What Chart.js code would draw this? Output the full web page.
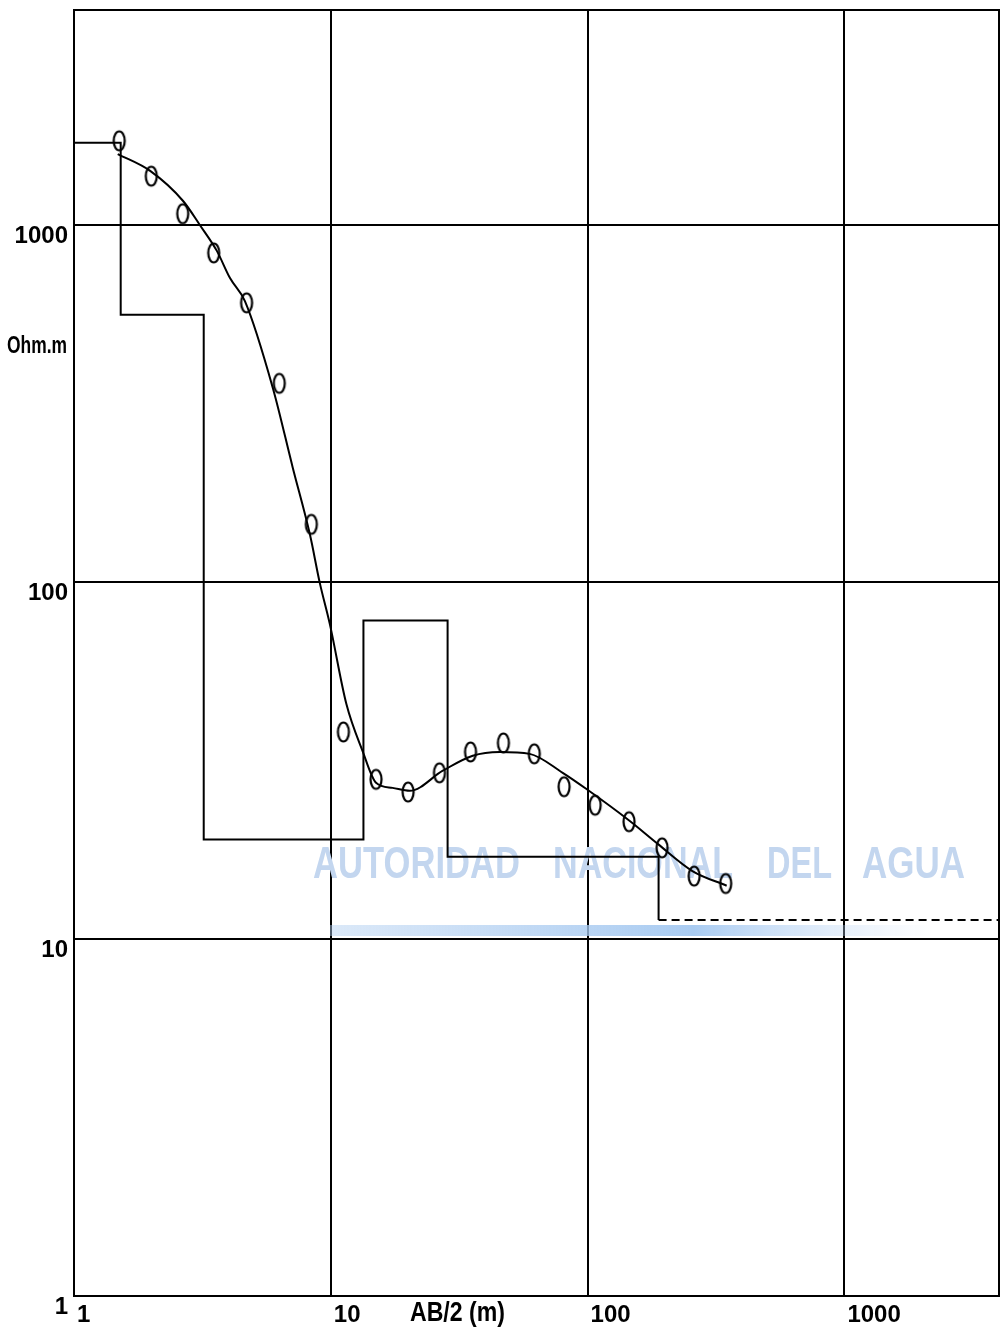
<!DOCTYPE html>
<html>
<head>
<meta charset="utf-8">
<script src="https://cdn.jsdelivr.net/npm/chart.js@4"></script>
<style>
  body { margin: 0; background: #fff; overflow: hidden; }
  canvas { display: block; }
</style>
</head>
<body>
<canvas id="myChart" width="1001" height="1328"></canvas>
<script>
// sounding curve - AB/2 (m) vs apparent resistivity (Ohm.m)
var abHalf = [1.5, 2, 2.65, 3.5, 4.7, 6.3, 8.4, 11.2, 15, 20, 26.5, 35, 47, 62, 81, 107, 145, 195, 260, 345];
var rhoApp = [1720, 1370, 1075, 835, 605, 360, 145, 38, 28, 25.8, 29.2, 33.4, 35.4, 33, 26.7, 23.7, 21.3, 18, 15, 14.3];

// computed (fitted) curve
var fitX = [1.48, 1.98, 2.66, 3.09, 3.6, 4.05, 4.63, 5.95, 7.11, 8.29, 9.06, 9.91, 11.5, 13.3, 15, 17.4, 20.3, 27.3, 35.7, 45.5, 59.5, 80, 99, 146, 187, 256, 348];
var fitY = [1580, 1417, 1167, 1000, 846, 710, 612, 349, 209, 136, 99.4, 76.3, 45.5, 33.6, 27.4, 26.5, 26, 29.6, 32.6, 33.4, 33, 29.2, 26.3, 21.4, 18.5, 15.5, 14.1];

// layer model: resistivities and bottom depths
var layerRho = [1700, 560, 19, 78, 17, 11.3];
var layerDepth = [1.52, 3.2, 13.4, 28.5, 189];

var decadeTicks = [1, 10, 100, 1000];
var axisMin = 1, axisMax = 4000;

var FONT = '"Liberation Sans", Arial, sans-serif';

// step line of the layer model
var stepPts = [{x: axisMin, y: layerRho[0]}];
for (var i = 0; i < layerDepth.length; i++) {
  stepPts.push({x: layerDepth[i], y: layerRho[i + 1]});
}
var lastRho = layerRho[layerRho.length - 1];
var tailPts = [{x: layerDepth[layerDepth.length - 1], y: lastRho}, {x: axisMax, y: lastRho}];

var measPts = abHalf.map(function (x, k) { return {x: x, y: rhoApp[k]}; });
var fitPts = fitX.map(function (x, k) { return {x: x, y: fitY[k]}; });

// oval marker like the plotter's "0"
function ovalMark() {
  var c = document.createElement('canvas');
  c.width = 16; c.height = 24;
  var g = c.getContext('2d');
  g.lineWidth = 2.2; g.strokeStyle = '#000';
  g.beginPath(); g.ellipse(8, 12, 5.5, 9.5, 0, 0, Math.PI * 2); g.stroke();
  return c;
}

// text squeezed to a given width (the plotter font is narrow)
function narrowText(ctx, txt, x, y, w) {
  var m = ctx.measureText(txt).width;
  ctx.save();
  ctx.translate(x, y);
  ctx.scale(w / m, 1);
  ctx.fillText(txt, 0, 0);
  ctx.restore();
}

var extras = {
  id: 'extras',
  beforeDatasetsDraw: function (chart) {
    var ctx = chart.ctx;
    ctx.save();
    ctx.font = 'bold 44px ' + FONT;
    ctx.fillStyle = '#c3d6ef';
    ctx.textAlign = 'left';
    ctx.textBaseline = 'alphabetic';
    [['AUTORIDAD', 313, 207], ['NACIONAL', 553, 180], ['DEL', 767, 65], ['AGUA', 862, 103]].forEach(function (w) {
      narrowText(ctx, w[0], w[1], 878, w[2]);
    });
    var gr = ctx.createLinearGradient(330, 0, 935, 0);
    gr.addColorStop(0, 'rgba(175,205,240,0.45)');
    gr.addColorStop(0.6, 'rgba(160,198,240,0.9)');
    gr.addColorStop(1, 'rgba(200,220,245,0)');
    ctx.fillStyle = gr;
    ctx.fillRect(330, 925, 605, 11);
    ctx.restore();
  },
  afterDraw: function (chart) {
    var ctx = chart.ctx, a = chart.chartArea;
    ctx.save();
    ctx.strokeStyle = '#000'; ctx.lineWidth = 2;
    ctx.strokeRect(a.left, a.top, a.right - a.left, a.bottom - a.top);
    ctx.fillStyle = '#000';
    ctx.textAlign = 'left';
    ctx.font = 'bold 24px ' + FONT;
    ctx.textBaseline = 'middle';
    narrowText(ctx, 'Ohm.m', 7, 346, 60);
    ctx.font = 'bold 27px ' + FONT;
    ctx.textBaseline = 'top';
    narrowText(ctx, 'AB/2 (m)', 410, a.bottom + 4, 95);
    ctx.restore();
  }
};

function decadesOnly(scale) {
  scale.ticks = decadeTicks.map(function (v) { return {value: v}; });
}

new Chart('myChart', {
  type: 'line',
  data: {
    datasets: [
      {data: measPts, showLine: false, pointStyle: ovalMark(), pointRadius: 8, borderColor: '#000'},
      {data: fitPts, borderColor: '#000', borderWidth: 2, pointRadius: 0, cubicInterpolationMode: 'monotone'},
      {data: stepPts, borderColor: '#000', borderWidth: 2, pointRadius: 0, stepped: true},
      {data: tailPts, borderColor: '#000', borderWidth: 2, pointRadius: 0, borderDash: [8, 5]}
    ]
  },
  options: {
    responsive: false,
    animation: false,
    layout: {autoPadding: false, padding: {top: 10, right: 2, left: 0, bottom: 0}},
    plugins: {legend: {display: false}, tooltip: {enabled: false}},
    scales: {
      x: {
        type: 'logarithmic', min: axisMin, max: axisMax,
        afterBuildTicks: decadesOnly,
        afterFit: function (s) { s.height = 32; s.paddingLeft = 0; s.paddingRight = 0; },
        grid: {color: '#000', lineWidth: 2, drawTicks: false},
        border: {color: '#000', width: 2},
        ticks: {
          autoSkip: false, maxRotation: 0, align: 'start', labelOffset: 3, padding: 5,
          color: '#000', font: {family: FONT, size: 24, weight: 'bold'},
          callback: function (v) { return String(v); }
        }
      },
      y: {
        type: 'logarithmic', min: axisMin, max: axisMax,
        afterBuildTicks: decadesOnly,
        afterFit: function (s) { s.width = 74; s.paddingTop = 0; s.paddingBottom = 0; },
        grid: {color: '#000', lineWidth: 2, drawTicks: false},
        border: {color: '#000', width: 2},
        ticks: {
          autoSkip: false, labelOffset: 11, padding: 6,
          color: '#000', font: {family: FONT, size: 24, weight: 'bold'},
          callback: function (v) { return String(v); }
        }
      }
    }
  },
  plugins: [extras]
});
</script>
</body>
</html>
